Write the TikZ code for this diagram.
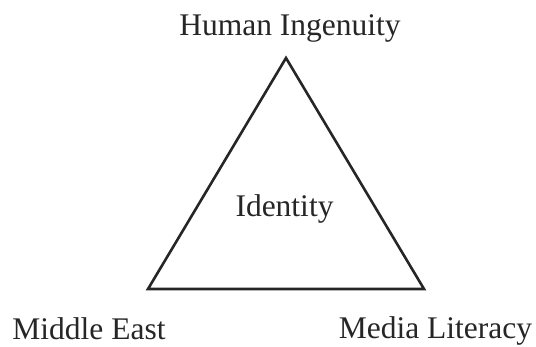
\documentclass[tikz,border=0pt]{standalone}
\usepackage{fontspec}
\setmainfont{Liberation Serif}
\usepackage{tikz}
\usetikzlibrary{positioning}

\begin{document}
\begin{tikzpicture}[
  x=1pt, y=1pt,
  corner/.style={font=\fontsize{31.5}{36}\selectfont, text=black!85, anchor=base, inner sep=0pt},
  edge/.style={line width=2.6pt, black!85, line join=miter},
]
\useasboundingbox (0,0) rectangle (536,347);

% Triangle corners
\coordinate (top) at (286, 289);
\coordinate (left) at (148, 58);
\coordinate (right) at (424, 58);
\draw[edge] (top) -- (left) -- (right) -- cycle;

% Corner labels
\node[corner] (hi) at (290, 311) {Human Ingenuity};
\node[corner] (me) at (89, 7) {Middle East};
\node[corner] (ml) at (435.5, 8) {Media Literacy};

% Centre label
\node[corner] (id) at (284.5, 130) {Identity};
\end{tikzpicture}
\end{document}
